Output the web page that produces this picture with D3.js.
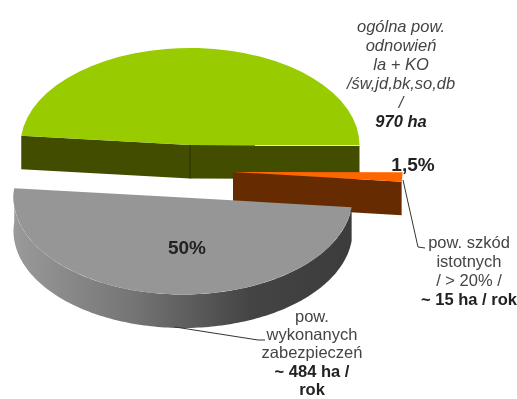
<!DOCTYPE html>
<html>
<head>
<meta charset="utf-8">
<script src="https://cdn.jsdelivr.net/npm/d3@7"></script>
<style>
html, body { margin: 0; padding: 0; background: #fff; }
svg { display: block; filter: blur(0.45px); }
text { font-family: "Liberation Sans", Arial, sans-serif; fill: #333; text-anchor: middle; }
</style>
</head>
<body>
<svg id="chart" width="517" height="399"></svg>
<script>
// values (ha)
var categories = ["ogolna", "szkody", "zabezpieczenia"];
var values = [471, 15, 484];
var percentLabels = ["", "1,5%", "50%"];

var topColors = ["#99cc00", "#ff6600", "#969696"];
var sideColors = ["#424d00", "#662b00", "#404040"];

var labelGreen = ["ogólna pow.", "odnowień", "la + KO", "/św,jd,bk,so,db", "/", "970 ha"];
var labelBrown = ["pow. szkód", "istotnych", "/ > 20% /", "~ 15 ha / rok"];
var labelGrey = ["pow.", "wykonanych", "zabezpieczeń", "~ 484 ha /", "rok"];

var svg = d3.select("#chart");
var rx = 169.5, ry = 97, depth = 33.5;
var centers = [[190, 145], [233, 172], [183, 197.5]];

var pie = d3.pie().sort(null).startAngle(-84.6 * Math.PI / 180).endAngle(275.4 * Math.PI / 180);
var slices = pie(values);

var arc = d3.arc().innerRadius(0).outerRadius(rx);
var line = d3.line();

// flat pie angle -> point on the tilted ellipse
function proj(c, a, dy) {
	return [c[0] + rx * Math.sin(a), c[1] - ry * Math.cos(a) + (dy || 0)];
}

// grey wall shading
var grad = svg.append("defs").append("linearGradient").attr("id", "wall");
grad.append("stop").attr("offset", "0%").attr("stop-color", "#9a9a9a");
grad.append("stop").attr("offset", "35%").attr("stop-color", "#757575");
grad.append("stop").attr("offset", "70%").attr("stop-color", "#444");
grad.append("stop").attr("offset", "100%").attr("stop-color", "#3c3c3c");

function drawSlice(d, i) {
	var c = centers[i];
	var g = svg.append("g").attr("class", "slice-" + categories[i]);

	if (i == 0) {
		// green piece: only the two cut faces show
		[d.startAngle, d.endAngle].forEach(function(a) {
			var p = proj(c, a);
			g.append("path")
				.attr("d", line([c, p, [p[0], p[1] + depth], [c[0], c[1] + depth]]) + "Z")
				.attr("fill", sideColors[i]);
		});
		g.append("line").attr("x1", c[0]).attr("y1", c[1]).attr("x2", c[0]).attr("y2", c[1] + depth)
			.attr("stroke", "#2a3300").attr("stroke-width", 1);
	}
	if (i == 1) {
		var p = proj(c, d.endAngle);
		g.append("path")
			.attr("d", line([c, p, [p[0], p[1] + depth], [c[0], c[1] + depth]]) + "Z")
			.attr("fill", sideColors[i]);
	}
	if (i == 2) {
		// outer wall: front half of the rim
		var angles = d3.range(d.startAngle, d.endAngle, 0.02).concat([d.endAngle]);
		var rim = angles.map(function(a) { return proj(c, a); });
		var low = angles.map(function(a) { return proj(c, a, depth); }).reverse();
		g.append("path")
			.attr("d", line(rim.concat(low)) + "Z")
			.attr("fill", "url(#wall)");
	}

	g.append("path")
		.attr("transform", "translate(" + c[0] + "," + c[1] + ") scale(1," + (ry / rx) + ")")
		.attr("d", arc(d))
		.attr("fill", topColors[i]);
}

slices.forEach(drawSlice);

// leader lines
var leaders = [
	[[403, 180], [418, 247], [425, 248]],
	[[175, 327], [258, 340], [265, 340]]
];
leaders.forEach(function(l) {
	svg.append("path").attr("d", line(l)).attr("fill", "none").attr("stroke", "#333").attr("stroke-width", 1);
});

function drawLabel(lines, x, y, step, italic) {
	lines.forEach(function(t, i) {
		var bold = t.indexOf("ha") >= 0 || t == "rok";
		svg.append("text")
			.attr("x", x).attr("y", y + i * step)
			.style("font-size", "16.5px")
			.style("font-style", italic ? "italic" : "normal")
			.style("font-weight", bold ? "bold" : "normal")
			.style("fill", bold ? "#222" : "#444")
			.text(t);
	});
}

drawLabel(labelGreen, 401, 32, 19, true);
drawLabel(labelBrown, 469, 248, 19, false);
drawLabel(labelGrey, 312, 321.5, 18.4, false);

svg.append("text").attr("x", 413).attr("y", 171)
	.style("font-size", "19px").style("font-weight", "bold").style("fill", "#222").text(percentLabels[1]);
svg.append("text").attr("x", 187).attr("y", 254)
	.style("font-size", "19px").style("font-weight", "bold").style("fill", "#222").text(percentLabels[2]);
</script>
</body>
</html>
